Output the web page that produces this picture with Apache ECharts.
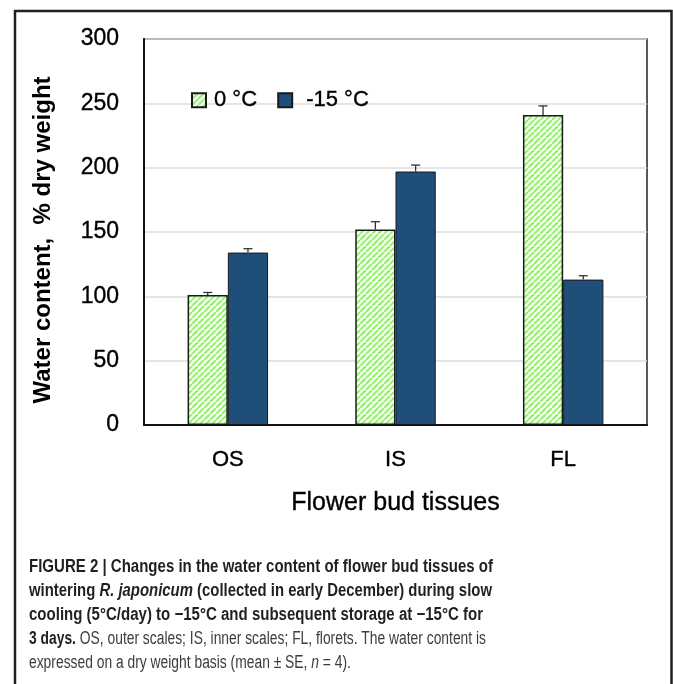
<!DOCTYPE html>
<html><head><meta charset="utf-8">
<script src="https://cdn.jsdelivr.net/npm/echarts@6/dist/echarts.min.js"></script>
<style>html,body{margin:0;padding:0;background:#fff}#c{width:673px;height:684px}</style>
</head><body><div id="c"></div>
<script>
const categories = ['OS', 'IS', 'FL'];
const seriesNames = ['0 °C', '-15 °C'];
const water0 = [101, 152, 241];
const water15 = [134, 197, 113];
const se0 = [2, 6, 7];
const se15 = [3, 5, 3];
const yTickMin = 0, yTickMax = 300, yTickStep = 50;
const yTitle = 'Water content,  % dry weight';
const xTitle = 'Flower bud tissues';
const captionLines = [
  [['b', 'FIGURE 2 | Changes in the water content of flower bud tissues of']],
  [['b', 'wintering '], ['bi', 'R. japonicum'], ['b', ' (collected in early December) during slow']],
  [['b', 'cooling (5°C/day) to \u221215°C and subsequent storage at \u221215°C for']],
  [['b', '3 days.'], ['r', ' OS, outer scales; IS, inner scales; FL, florets. The water content is']],
  [['r', 'expressed on a dry weight basis (mean \u00b1 SE, '], ['i', 'n'], ['r', ' = 4).']]
];

const FF = '"Liberation Sans", Arial, sans-serif';
function stripe() {
  const c = document.createElement('canvas'); c.width = 6; c.height = 6;
  const g = c.getContext('2d');
  g.fillStyle = '#ffffff'; g.fillRect(0, 0, 6, 6);
  g.strokeStyle = '#9ef07c'; g.lineWidth = 2.3; g.beginPath();
  for (let k = -6; k <= 12; k += 6) { g.moveTo(k, 6); g.lineTo(k + 6, 0); }
  g.stroke();
  return c;
}
const greenPattern = { image: stripe(), repeat: 'repeat' };

// caption
const capFonts = {
  b: { w: 'bold', s: 'normal', c: '#231f20' },
  bi: { w: 'bold', s: 'italic', c: '#231f20' },
  r: { w: 'normal', s: 'normal', c: '#3d3d3d' },
  i: { w: 'normal', s: 'italic', c: '#3d3d3d' }
};
const capSize = 18;
const capX = 29;
const capYs = [567, 591, 615, 639, 663];
const capEnds = [493, 492, 483, 486, null];
const mctx = document.createElement('canvas').getContext('2d');
const capGraphics = [];
let lastScale = 0.8;
captionLines.forEach((line, li) => {
  let w = 0; let txt = '';
  line.forEach(([st, t]) => {
    const f = capFonts[st];
    mctx.font = f.s + ' ' + f.w + ' ' + capSize + 'px ' + FF;
    w += mctx.measureText(t).width;
    txt += '{' + st + '|' + t + '}';
  });
  let sc = capEnds[li] ? (capEnds[li] - capX) / w : lastScale;
  lastScale = sc;
  const rich = {};
  Object.keys(capFonts).forEach(k => {
    const f = capFonts[k];
    rich[k] = { fontFamily: FF, fontSize: capSize, fontWeight: f.w, fontStyle: f.s, fill: f.c, color: f.c };
  });
  capGraphics.push({
    type: 'text', x: capX, y: capYs[li], scaleX: sc, originX: 0,
    style: { text: txt, rich: rich, verticalAlign: 'middle', align: 'left', font: capSize + 'px ' + FF }
  });
});

const chart = echarts.init(document.getElementById('c'), null, { renderer: 'canvas' });
const errData = [];
water0.forEach((v, i) => errData.push([i, v, se0[i], -1]));
water15.forEach((v, i) => errData.push([i, v, se15[i], 1]));

const heavy = { textBorderColor: '#000', textBorderWidth: 0.35 };

chart.setOption({
  animation: false,
  backgroundColor: '#ffffff',
  grid: { left: 144, top: 39, right: 26, bottom: 259, show: true, borderColor: '#222', borderWidth: 1.5 },
  legend: {
    data: [
      { name: seriesNames[0], textStyle: { padding: [0, 0, 0, 3] } },
      { name: seriesNames[1], textStyle: { padding: [0, 0, 0, 9] } }
    ],
    left: 186, top: 84, itemWidth: 14, itemHeight: 14, itemGap: 20,
    icon: 'rect',
    textStyle: Object.assign({ fontFamily: FF, fontSize: 22, color: '#000' }, heavy)
  },
  xAxis: {
    type: 'category', data: categories,
    axisLine: { lineStyle: { color: '#111', width: 2 } },
    axisTick: { show: false },
    axisLabel: Object.assign({ fontFamily: FF, fontSize: 22, color: '#000', margin: 24 }, heavy),
    name: xTitle, nameLocation: 'middle', nameGap: 66,
    nameTextStyle: Object.assign({ fontFamily: FF, fontSize: 25, color: '#000' }, heavy)
  },
  yAxis: {
    type: 'value', min: yTickMin, max: yTickMax, interval: yTickStep,
    axisLine: { show: true, lineStyle: { color: '#111', width: 2 } },
    axisTick: { show: false },
    axisLabel: Object.assign({ fontFamily: FF, fontSize: 23, color: '#000', margin: 25 }, heavy),
    splitLine: { lineStyle: { color: '#dcdcdc', width: 1.5 } }
  },
  series: [
    {
      name: seriesNames[0], type: 'bar', data: water0, barWidth: '24%', barGap: '0%',
      itemStyle: { color: greenPattern, borderColor: '#1a1a1a', borderWidth: 1.5 }
    },
    {
      name: seriesNames[1], type: 'bar', data: water15, barWidth: '24%', barGap: '0%',
      itemStyle: { color: '#1f4e79', borderColor: '#1a1a1a', borderWidth: 1 }
    },
    {
      type: 'custom', data: errData, z: 10,
      renderItem: function (params, api) {
        const ci = api.value(0), v = api.value(1), e = api.value(2), side = api.value(3);
        const band = api.size([1, 0])[0];
        const off = side * band * 0.12;
        const p0 = api.coord([ci, v]);
        const p1 = api.coord([ci, v + e]);
        const x = p0[0] + off;
        const st = { stroke: '#333', lineWidth: 1.3 };
        return {
          type: 'group', children: [
            { type: 'line', shape: { x1: x, y1: p0[1], x2: x, y2: p1[1] }, style: st },
            { type: 'line', shape: { x1: x - 4.5, y1: p1[1], x2: x + 4.5, y2: p1[1] }, style: st }
          ]
        };
      }
    }
  ],
  graphic: [
    { type: 'rect', shape: { x: 15, y: 11, width: 656.5, height: 700 }, style: { fill: 'none', stroke: '#231f20', lineWidth: 2.5 }, silent: true },
    {
      type: 'text', x: 43, y: 240, rotation: Math.PI / 2, originX: 0, originY: 0,
      style: { text: yTitle, font: 'bold 24px ' + FF, fill: '#000', align: 'center', verticalAlign: 'middle' }
    }
  ].concat(capGraphics)
});
</script></body></html>
